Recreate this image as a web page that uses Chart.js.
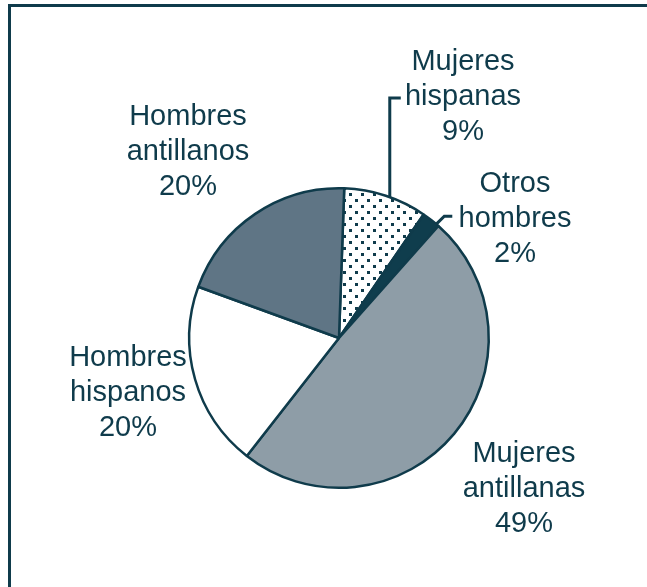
<!DOCTYPE html>
<html>
<head>
<meta charset="utf-8">
<script src="https://cdn.jsdelivr.net/npm/chart.js@4"></script>
<style>
  html, body { margin: 0; padding: 0; background: #fff; }
  #wrap { width: 647px; height: 587px; position: relative; }
</style>
</head>
<body>
<div id="wrap"><canvas id="pie" width="647" height="587"></canvas></div>
<script>
// slices clockwise from 12 o'clock
const categories = ['Mujeres hispanas', 'Otros hombres', 'Mujeres antillanas', 'Hombres hispanos', 'Hombres antillanos'];
const shares = [9, 2, 49, 20, 20];
const labelLines = [
    ['Mujeres', 'hispanas', '9%'],
    ['Otros', 'hombres', '2%'],
    ['Mujeres', 'antillanas', '49%'],
    ['Hombres', 'hispanos', '20%'],
    ['Hombres', 'antillanos', '20%']
];

const ink = '#0f3b4b';

// dotted fill for Mujeres hispanas
const makeDots = () => {
    const c = document.createElement('canvas');
    c.width = 12; c.height = 12;
    const g = c.getContext('2d');
    g.fillStyle = '#fff';
    g.fillRect(0, 0, 12, 12);
    g.fillStyle = ink;
    g.fillRect(1, 1, 3, 3);
    g.fillRect(7, 7, 3, 3);
    return g.createPattern(c, 'repeat');
};

// label placement (text centre x, first baseline) and leader elbows
const labelPos = [
    { x: 463, y: 70, leader: 'up', at: 0.55 },
    { x: 515, y: 192, leader: 'diag', at: 0.85 },
    { x: 524, y: 462 },
    { x: 128, y: 366 },
    { x: 188, y: 125 }
];

const framePlugin = {
    id: 'frame',
    beforeDraw(chart) {
        const ctx = chart.ctx;
        ctx.save();
        ctx.strokeStyle = ink;
        ctx.lineWidth = 3;
        ctx.beginPath();
        ctx.moveTo(9.5, 587);
        ctx.lineTo(9.5, 5.5);
        ctx.lineTo(647, 5.5);
        ctx.stroke();
        ctx.restore();
    }
};

const labelPlugin = {
    id: 'sliceLabels',
    afterDatasetsDraw(chart) {
        const ctx = chart.ctx;
        const arcs = chart.getDatasetMeta(0).data;
        ctx.save();
        ctx.fillStyle = ink;
        ctx.strokeStyle = ink;
        ctx.lineWidth = 3;
        ctx.font = '29px "Liberation Sans", Arial, sans-serif';
        ctx.textAlign = 'center';
        ctx.textBaseline = 'alphabetic';
        arcs.forEach((arc, i) => {
            const p = labelPos[i];
            labelLines[i].forEach((t, k) => ctx.fillText(t, p.x, p.y + k * 35));
            if (!p.leader) return;
            const a = arc.startAngle + (arc.endAngle - arc.startAngle) * p.at;
            const ax = arc.x + Math.cos(a) * arc.outerRadius;
            const ay = arc.y + Math.sin(a) * arc.outerRadius;
            ctx.beginPath();
            if (p.leader === 'up') {
                ctx.moveTo(ax, ay);
                ctx.lineTo(ax, p.y + 28);
                ctx.lineTo(ax + 11, p.y + 28);
            } else {
                ctx.moveTo(ax, ay);
                ctx.lineTo(ax + 8, ay - 8);
                ctx.lineTo(ax + 16, ay - 8);
            }
            ctx.stroke();
        });
        ctx.restore();
    }
};

new Chart(document.getElementById('pie'), {
    type: 'pie',
    data: {
        labels: categories,
        datasets: [{
            data: shares,
            backgroundColor: [makeDots(), '#0f3d4d', '#8e9da7', '#ffffff', '#5f7585'],
            borderColor: ink,
            borderWidth: 2.5,
            hoverOffset: 0
        }]
    },
    options: {
        responsive: false,
        animation: false,
        devicePixelRatio: 1,
        rotation: 2,
        layout: { padding: { left: 188, right: 157, top: 187, bottom: 98 } },
        plugins: {
            legend: { display: false },
            tooltip: { enabled: false }
        }
    },
    plugins: [framePlugin, labelPlugin]
});
</script>
</body>
</html>
